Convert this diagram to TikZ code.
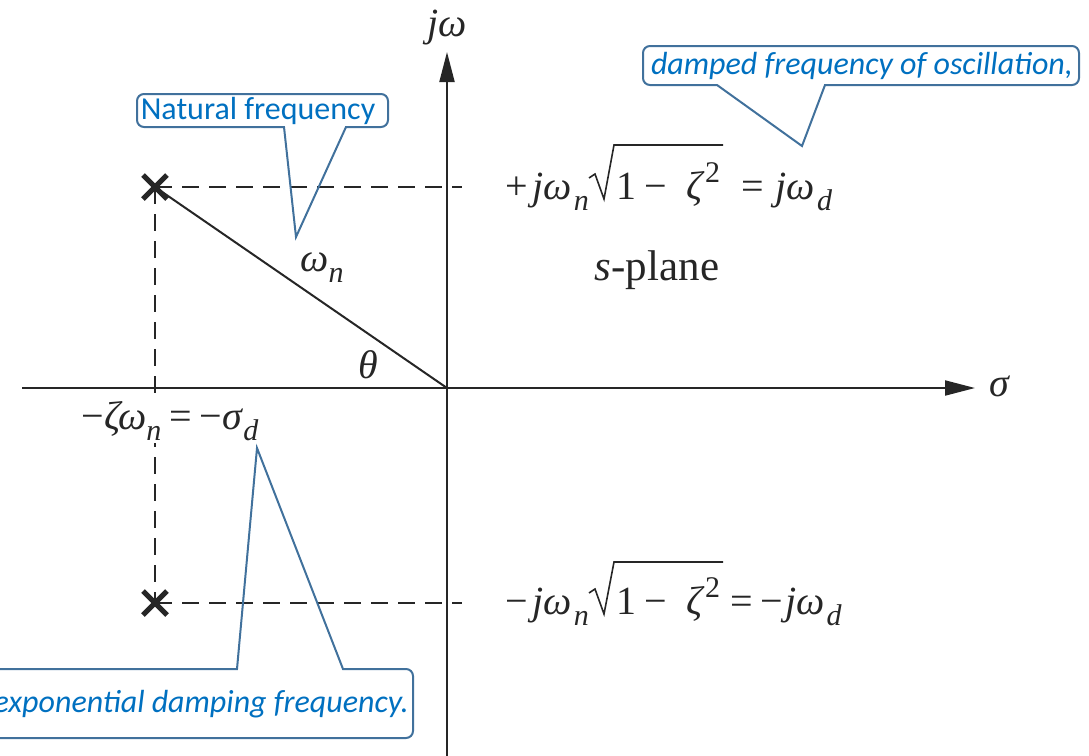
\documentclass[tikz,border=0pt]{standalone}
\usepackage{fontspec}
\setmainfont{Liberation Serif}
\newfontfamily\calloutfont{Carlito}
\usetikzlibrary{arrows.meta,shapes.misc}
\definecolor{cline}{HTML}{41719C}
\definecolor{ctext}{HTML}{0070C0}
\definecolor{ink}{HTML}{262626}
\newcommand\mi[1]{\textit{#1}}
\newcommand\sub[1]{\raisebox{-0.28em}{\fontsize{30}{30}\selectfont\mi{#1}}}
\newcommand\sups[1]{\raisebox{0.42em}{\fontsize{30}{30}\selectfont #1}}
\tikzset{
  axis/.style={draw=ink,line width=2pt,-{Triangle[length=30pt,width=15pt]}},
  guide/.style={draw=ink,line width=2pt,dash pattern=on 17pt off 10pt},
  radial/.style={draw=ink,line width=2pt},
  radical/.style={draw=ink,line width=1.6pt,line join=miter},
  pole/.style={cross out,draw=ink,line width=5pt,minimum size=19pt,inner sep=0pt},
  mlabel/.style={font=\fontsize{40}{46}\selectfont,inner sep=1pt,text=ink},
  callout/.style={draw=cline,line width=2pt},
  ctxt/.style={font=\calloutfont\fontsize{32}{36}\selectfont,text=ctext,inner sep=0pt}
}
\begin{document}
\begin{tikzpicture}[x=1pt,y=-1pt]
\useasboundingbox (0,0) rectangle (1089,755);
% axes
\coordinate (O) at (447,388);
\coordinate (xl) at (22,388);
\coordinate (xr) at (975,388);
\coordinate (yb) at (447,760);
\coordinate (yt) at (447,52);
\draw[axis] (xl) -- (xr);
\draw[axis] (yb) -- (yt);
\node[mlabel] (jw) at (447,28) {\mi{jω}};
\node[mlabel] (sig) at (1000,386) {\mi{σ}};
% poles
\node[pole] (p1) at (155,187) {};
\node[pole] (p2) at (155,603) {};
\coordinate (d1) at (462,187);
\coordinate (d2) at (462,603);
\draw[guide] (p1.center) -- (d1);
\draw[guide] (p2.center) -- (d2);
\draw[guide] (p1.center) -- (p2.center);
\draw[radial] (p1.center) -- (O);
% labels
\node[mlabel,fill=white,inner sep=2pt] (sd) at (170,421) {−\mi{ζω}\sub{n}\hspace{0.2em}=\hspace{0.2em}−\mi{σ}\sub{d}};
\node[mlabel] (wn) at (322,268) {\mi{ω}\sub{n}};
\node[mlabel] (th) at (368,365) {\mi{θ}};
\node[mlabel,font=\fontsize{43}{48}\selectfont] (sp) at (657,270) {\mi{s}-plane};
% upper equation
\node[mlabel,anchor=base east] (u1) at (590,199) {+\hspace{0.12em}\mi{jω}\hspace{0.05em}\sub{n}};
\node[mlabel,anchor=base west] (ur) at (615,199) {1\hspace{0.2em}−\hspace{0.5em}\mi{ζ}\sups{2}};
\node[mlabel,anchor=base west] (u2) at (740,199) {=\hspace{0.3em}\mi{jω}\hspace{0.05em}\sub{d}};
\coordinate (ua) at (589,178);
\coordinate (ub) at (595,174);
\coordinate (uc) at (604,199);
\coordinate (ud) at (614,145);
\coordinate (ue) at (723,145);
\draw[radical] (ua) -- (ub) -- (uc) -- (ud) -- (ue);
% lower equation
\node[mlabel,anchor=base east] (l1) at (590,614) {−\hspace{0.12em}\mi{jω}\hspace{0.05em}\sub{n}};
\node[mlabel,anchor=base west] (lr) at (615,614) {1\hspace{0.2em}−\hspace{0.5em}\mi{ζ}\sups{2}};
\node[mlabel,anchor=base west] (l2) at (729,614) {=\hspace{0.2em}−\hspace{0.05em}\mi{jω}\hspace{0.05em}\sub{d}};
\coordinate (la) at (589,593);
\coordinate (lb) at (595,589);
\coordinate (lc) at (604,614);
\coordinate (ld) at (614,562);
\coordinate (le) at (723,562);
\draw[radical] (la) -- (lb) -- (lc) -- (ld) -- (le);
% callout: natural frequency
\coordinate (t1) at (296,237);
\draw[callout] (284,127) -- (t1) -- (346,127) [rounded corners=7pt] -- (388,127) -- (388,94) -- (137,94) -- (137,127) [sharp corners] -- (284,127) -- cycle;
\node[ctxt] (nf) at (258,111) {Natural frequency};
% callout: damped frequency
\coordinate (t2) at (802,146);
\draw[callout] (717,85) -- (t2) -- (825,85) [rounded corners=7pt] -- (1079,85) -- (1079,46) -- (643,46) -- (643,85) [sharp corners] -- (717,85) -- cycle;
\node[ctxt] (df) at (862,66) {\itshape damped frequency of oscillation,};
% callout: exponential damping
\coordinate (t3) at (257,448);
\draw[callout] (237,669) -- (t3) -- (343,669) [rounded corners=7pt] -- (413,669) -- (413,738) -- (-10,738) -- (-10,669) [sharp corners] -- (237,669) -- cycle;
\node[ctxt,anchor=east] (ed) at (409,704) {\itshape exponential damping frequency.};
\end{tikzpicture}
\end{document}
